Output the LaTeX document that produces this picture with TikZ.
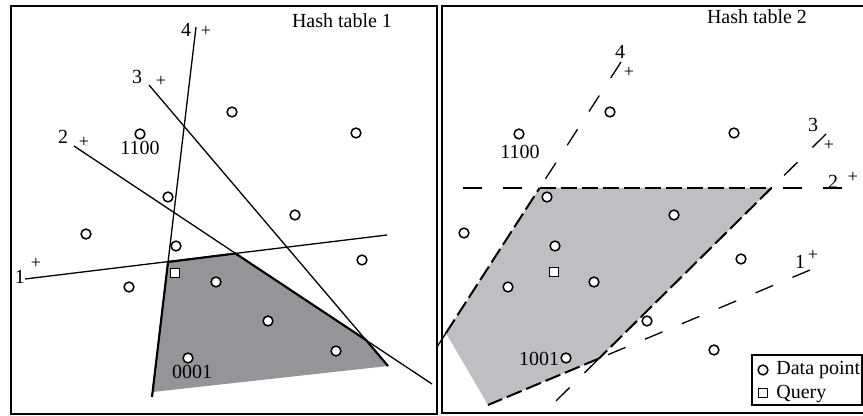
\documentclass[tikz,border=0pt]{standalone}
\usepackage{fontspec}
\setmainfont{Liberation Serif}
\definecolor{darkcell}{RGB}{147,149,152}
\definecolor{lightcell}{RGB}{190,191,194}
\begin{document}
\begin{tikzpicture}[x=0.5pt,y=-0.5pt,
  frame/.style={line width=0.7pt},
  hyper/.style={line width=0.65pt},
  edgeline/.style={line width=1.05pt, line join=round},
  sparse/.style={line width=0.65pt, dash pattern=on 9.5pt off 10.5pt},
  dense/.style={line width=1pt, dash pattern=on 8pt off 2.5pt},
  dpt/.style={circle, draw, fill=white, line width=0.75pt, minimum size=4.9pt, inner sep=0pt},
  qpt/.style={rectangle, draw, fill=white, line width=0.65pt, minimum size=4.2pt, inner sep=0pt},
  lbl/.style={inner sep=0pt, font=\fontsize{10}{12}\selectfont},
  plus/.style={inner sep=0pt, font=\fontsize{9}{10}\selectfont},
]
\useasboundingbox (0,0) rectangle (863,416);

% ---------- frames ----------
\draw[frame] (11,6) rectangle (437,414);
\draw[frame] (863,6) -- (442,6) -- (442,413) -- (863,413);

% ---------- Hash table 1 ----------
\coordinate (a4s) at (196,27);  \coordinate (a4e) at (152,397);
\coordinate (a3s) at (149,85);  \coordinate (a3e) at (388,366);
\coordinate (a2s) at (74,146);  \coordinate (a2e) at (432,384);
\coordinate (a1s) at (25,279);  \coordinate (a1e) at (387,235);
\coordinate (p1) at (168,262);
\coordinate (p2) at (235.5,253.5);
\coordinate (p3) at (366,340);
\coordinate (p5) at (152.6,392);

\fill[darkcell] (p1) -- (p2) -- (p3) -- (a3e) -- (p5) -- cycle;
\draw[hyper] (a4s) -- (a4e);
\draw[hyper] (a3s) -- (a3e);
\draw[hyper] (a2s) -- (a2e);
\draw[hyper] (a1s) -- (a1e);
\draw[edgeline] (a4e) -- (p1) -- (p2) -- (p3) -- (a3e);

\node[lbl] (t1) at (186,30) {4};  \node[plus] (s1) at (206,31) {+};
\node[lbl] (t2) at (137,77) {3};  \node[plus] (s2) at (161,81) {+};
\node[lbl] (t3) at (63,137) {2};  \node[plus] (s3) at (84,142) {+};
\node[lbl] (t4) at (20,277) {1};  \node[plus] (s4) at (36,263) {+};

\node[dpt] (l1) at (232,112) {};
\node[dpt] (l2) at (356,133) {};
\node[dpt] (l3) at (140,134) {};
\node[dpt] (l4) at (168,197) {};
\node[dpt] (l5) at (86,234) {};
\node[dpt] (l6) at (176,246) {};
\node[dpt] (l7) at (295,215) {};
\node[dpt] (l8) at (362,260) {};
\node[dpt] (l9) at (129,287) {};
\node[dpt] (l10) at (216,282) {};
\node[dpt] (l11) at (268,321) {};
\node[dpt] (l12) at (336,351) {};
\node[dpt] (l13) at (188,358) {};
\node[qpt] (lq) at (175,273) {};
\node[lbl] (c1) at (140,148) {1100};
\node[lbl] (c2) at (192,372) {0001};
\node[lbl, anchor=base] (h1) at (342,28) {Hash table 1};

% ---------- Hash table 2 ----------
\coordinate (b4s) at (621,62);   \coordinate (b4e) at (437,347);
\coordinate (b2s) at (463,188);  \coordinate (b2e) at (842,188);
\coordinate (b3s) at (826,134);  \coordinate (b3e) at (556,401);
\coordinate (b1s) at (810,270);  \coordinate (b1e) at (488,405);
\coordinate (qA) at (539.6,188);
\coordinate (qB) at (771.4,188);
\coordinate (qC) at (599,358.5);
\coordinate (qE) at (446,333);

\fill[lightcell] (qA) -- (qB) -- (qC) -- (b1e) -- (qE) -- cycle;
\draw[sparse] (b4s) -- (qA);
\draw[sparse] (qE) -- (b4e);
\draw[sparse] (b2s) -- (qA);
\draw[sparse] (b2e) -- (qB);
\draw[sparse] (b3s) -- (qB);
\draw[sparse] (b3e) -- (qC);
\draw[sparse] (b1s) -- (qC);
\draw[dense] (qA) -- (qB);
\draw[dense] (qB) -- (qC);
\draw[dense] (qC) -- (b1e);
\draw[dense] (qE) -- (qA);

\node[lbl] (u1) at (620,52) {4};   \node[plus] (v1) at (629,72) {+};
\node[lbl] (u2) at (813,125) {3};  \node[plus] (v2) at (829,145) {+};
\node[lbl] (u3) at (833,182) {2};  \node[plus] (v3) at (853,177) {+};
\node[lbl] (u4) at (800,262) {1};  \node[plus] (v4) at (813,255) {+};

\node[dpt] (r1) at (610,112) {};
\node[dpt] (r2) at (519,134) {};
\node[dpt] (r3) at (734,133) {};
\node[dpt] (r4) at (547,197) {};
\node[dpt] (r5) at (464,233) {};
\node[dpt] (r6) at (555,246) {};
\node[dpt] (r7) at (674,215) {};
\node[dpt] (r8) at (741,259) {};
\node[dpt] (r9) at (508,287) {};
\node[dpt] (r10) at (594,282) {};
\node[dpt] (r11) at (647,321) {};
\node[dpt] (r12) at (714,350) {};
\node[dpt] (r13) at (566,358) {};
\node[qpt] (rq) at (554,272) {};
\node[lbl] (d1) at (520,152) {1100};
\node[lbl] (d2) at (539,359) {1001};
\node[lbl, anchor=base] (h2) at (757,24) {Hash table 2};

% ---------- legend ----------
\node[draw, line width=0.7pt, minimum width=55pt, minimum height=25pt, inner sep=0pt] (legend) at (807,380) {};
\node[dpt] (ld) at (763,370) {};
\node[lbl, anchor=base west] (ldt) at (776,375) {Data point};
\node[qpt] (lqs) at (763,393) {};
\node[lbl, anchor=base west] (lqt) at (776,399) {Query};
\end{tikzpicture}
\end{document}
